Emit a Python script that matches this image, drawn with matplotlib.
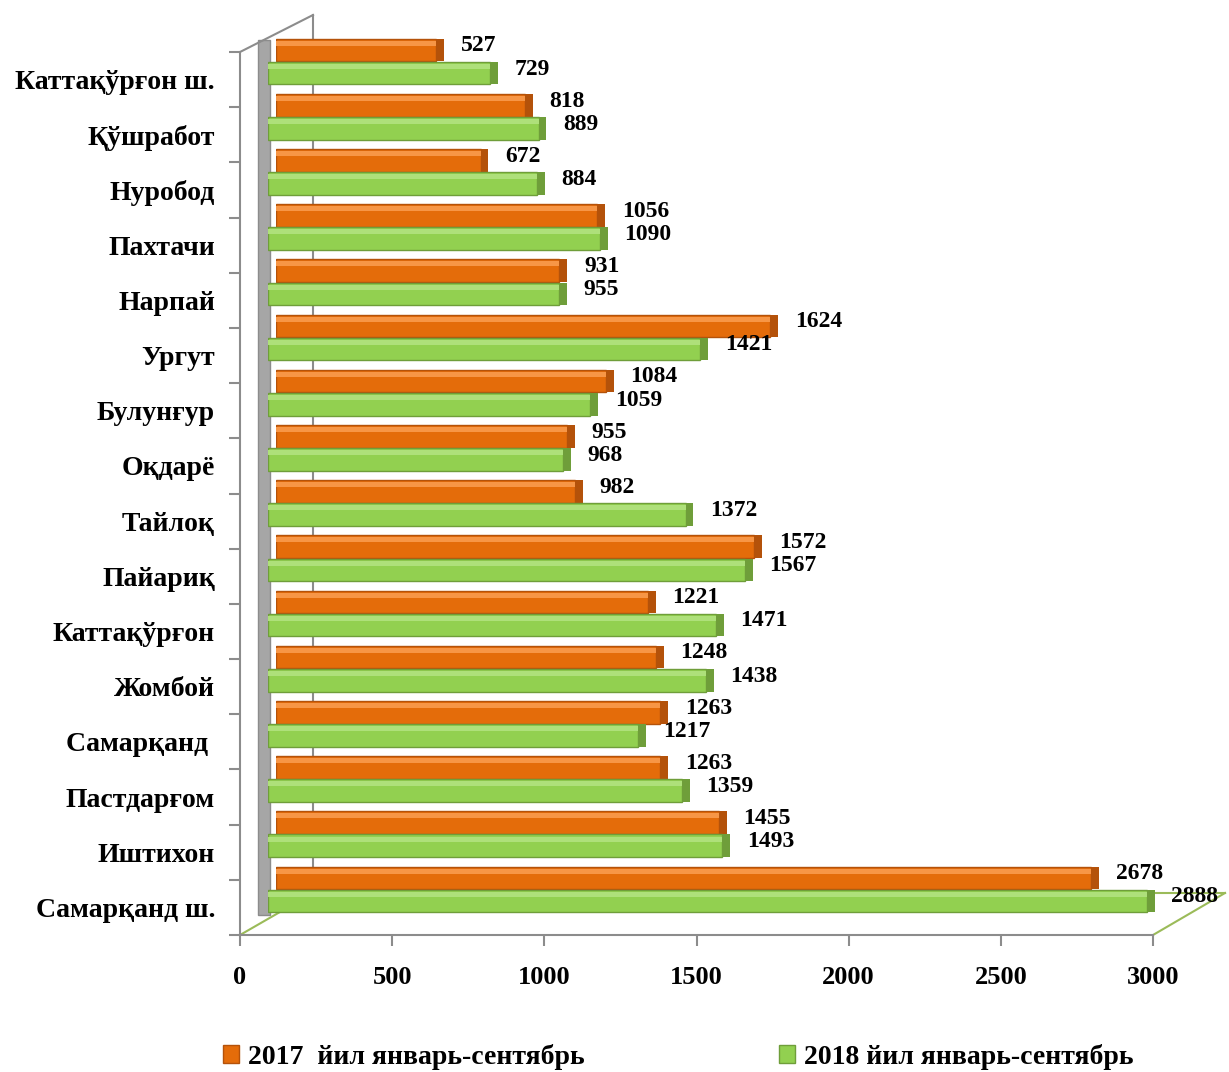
import numpy as np
import matplotlib
matplotlib.use("Agg")
import matplotlib.pyplot as plt
from matplotlib.lines import Line2D
from matplotlib.patches import Rectangle, Patch

# данные
districts = ["Каттақўрғон ш.", "Қўшработ", "Нуробод", "Пахтачи", "Нарпай", "Ургут",
             "Булунғур", "Оқдарё", "Тайлоқ", "Пайариқ", "Каттақўрғон", "Жомбой",
             "Самарқанд ", "Пастдарғом", "Иштихон", "Самарқанд ш."]
v2017 = [527, 818, 672, 1056, 931, 1624, 1084, 955, 982, 1572, 1221, 1248, 1263, 1263, 1455, 2678]
v2018 = [729, 889, 884, 1090, 955, 1421, 1059, 968, 1372, 1567, 1471, 1438, 1217, 1359, 1493, 2888]
xticks = [0, 500, 1000, 1500, 2000, 2500, 3000]
names = ["2017  йил январь-сентябрь", "2018 йил январь-сентябрь"]

serif = ["Liberation Serif", "DejaVu Serif"]
plt.rcParams["font.family"] = serif
plt.rcParams["font.weight"] = "bold"

W, H = 1229, 1072
fig = plt.figure(figsize=(W / 100, H / 100), dpi=100)

def fx(px):
    return px / W

def fy(py):
    return 1 - py / H

# основная ось (подписи, шкала)
x0, x1, ytop, ybot = 240, 1153, 52, 935
pos = [fx(x0), fy(ybot), fx(x1 - x0), (ybot - ytop) / H]
ax = fig.add_axes(pos)
ax.set_facecolor("none")
n = len(districts)
y = np.arange(n)
ax.set_xlim(0, 3000)
ax.set_ylim(n - 0.5, -0.5)
for s in ["top", "right"]:
    ax.spines[s].set_visible(False)
for s in ["left", "bottom"]:
    ax.spines[s].set_color("#8c8c8c")
    ax.spines[s].set_linewidth(1.5)
ax.set_yticks(np.arange(-0.5, n, 1))
ax.set_yticklabels([])
ax.set_yticks(y, minor=True)
ax.set_yticklabels(districts, minor=True, fontsize=20, fontweight="bold")
ax.tick_params(axis="y", which="major", length=8, width=1.5, color="#8c8c8c")
ax.tick_params(axis="y", which="minor", length=0, pad=18)
ax.set_xticks(xticks)
ax.set_xticklabels([str(t) for t in xticks], fontsize=19, fontweight="bold")
ax.tick_params(axis="x", length=8, width=1.5, color="#8c8c8c", pad=14)

# "3D" плоскости столбцов, смещённые вправо и вверх
h = 0.41
off = 0.21
cap = 26  # торец столбца, в единицах шкалы
series = [(v2017, -off, 36, "#e46c0a", "#f79646", "#b4520a"),
          (v2018, off, 28, "#92d050", "#aee07a", "#6f9e3a")]
for vals, shift, dx, col, light, dark in series:
    bx = fig.add_axes([pos[0] + dx / W, pos[1] + 18 / H, pos[2], pos[3]])
    bx.set_facecolor("none")
    bx.set_xlim(0, 3000)
    bx.set_ylim(n - 0.5, -0.5)
    bx.axis("off")
    bx.barh(y + shift, vals, height=h, color=col, edgecolor=dark, linewidth=1.0)
    bx.barh(y + shift - h * 0.3, vals, height=h * 0.22, color=light, linewidth=0)
    bx.barh(y + shift, cap, left=vals, height=h, color=dark, linewidth=0)
    for i in range(n):
        bx.annotate(str(vals[i]), (vals[i] + cap, y[i] + shift), xytext=(12, 3),
                    textcoords="offset points", va="center", ha="left",
                    fontsize=17, fontweight="bold")

# стенка и пол
fig.add_artist(Rectangle((fx(258), fy(915)), fx(12), (915 - 40) / H,
                         facecolor="#a6a6a6", edgecolor="#8c8c8c", lw=1, zorder=-1))
gray = "#8c8c8c"
green = "#9bbb59"
for (xa, ya), (xb, yb), c in [((240, 52), (313, 15), gray),
                             ((313, 15), (313, 893), gray),
                             ((240, 935), (313, 893), green),
                             ((313, 893), (1225, 893), green),
                             ((1153, 935), (1225, 893), green)]:
    fig.add_artist(Line2D([fx(xa), fx(xb)], [fy(ya), fy(yb)], color=c, lw=1.5, zorder=-1))

handles = [Patch(facecolor="#e46c0a", edgecolor="#b4520a"),
           Patch(facecolor="#92d050", edgecolor="#6f9e3a")]
fig.legend(handles, names, loc="center", bbox_to_anchor=(fx(678), fy(1057)), ncol=2,
           frameon=False, fontsize=20, handlelength=0.6, handleheight=0.6,
           handletextpad=0.3, columnspacing=7)

fig.savefig("out.png", dpi=100, facecolor="white")
